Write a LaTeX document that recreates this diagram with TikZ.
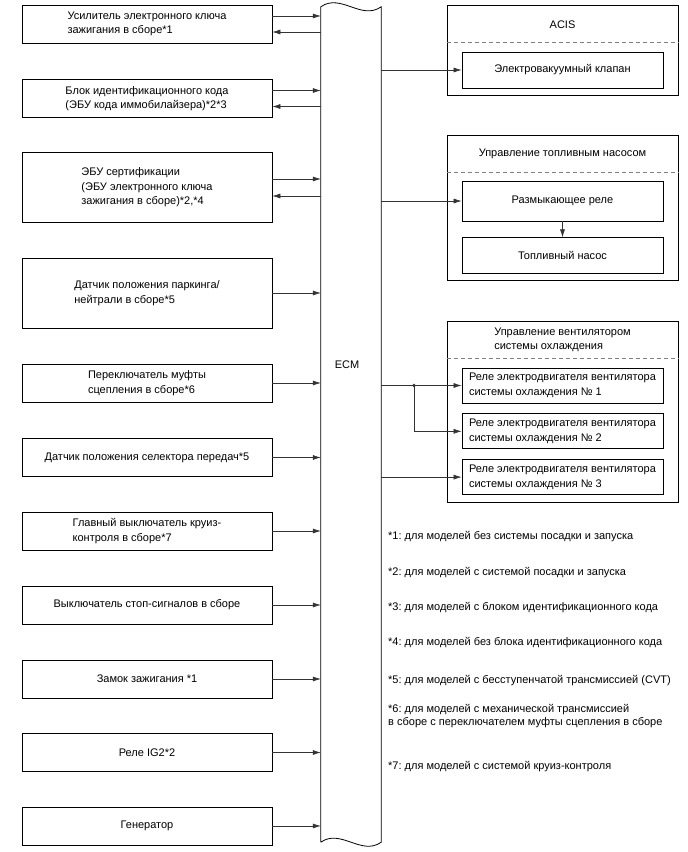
\documentclass[tikz,border=0pt]{standalone}
\usepackage{fontspec}
\setmainfont{Liberation Sans}
\usetikzlibrary{positioning, calc, arrows.meta}
\frenchspacing

\begin{document}
\begin{tikzpicture}[
    x=1pt, y=-1pt,
    >={Latex[length=8pt,width=5pt]},
    font=\fontsize{11}{14.5}\selectfont,
    node distance=10pt,
    % Styles
    unit/.style={draw, line width=0.8pt, minimum width=250pt,
        minimum height=38pt, align=left, inner sep=0pt},
    tallunit/.style={unit, minimum height=70pt},
    group/.style={draw, line width=0.8pt, minimum width=231pt},
    part/.style={draw, line width=0.8pt, minimum width=201pt,
        minimum height=36pt, align=left, inner sep=0pt},
    ecmbody/.style={minimum width=60pt, minimum height=835pt, inner sep=0pt},
    ecmline/.style={line width=0.8pt},
    sep/.style={dashed, dash pattern=on 4pt off 3pt, gray, line width=0.7pt},
    arr/.style={->, line width=0.6pt, black!80},
    note/.style={anchor=west, align=left, inner sep=0pt},
]
\useasboundingbox (0,0) rectangle (688,852);

% ===== ECM =====
\node[ecmbody] (ecm) at (351,424.5) {};
\draw[ecmline] (ecm.south west) -- (ecm.north west)
    .. controls +(20,-14) and +(-20,14) .. (ecm.north east)
    -- (ecm.south east)
    .. controls +(-20,14) and +(20,-14) .. (ecm.south west);
\node (ecmlbl) at (347,365) {ECM};

% ===== Left column: inputs =====
\node[unit] (ign) at (147,24)
    {Усилитель электронного ключа\\зажигания в сборе*1};
\draw[arr] ([yshift=8pt]ign.east) -- ([yshift=8pt]ign.east -| ecm.west);
\draw[arr] ([yshift=-8pt]ign.east -| ecm.west) -- ([yshift=-8pt]ign.east);

\node[unit] (immo) at (147,98.5)
    {Блок идентификационного кода\\(ЭБУ кода иммобилайзера)*2*3};
\draw[arr] ([yshift=8pt]immo.east) -- ([yshift=8pt]immo.east -| ecm.west);
\draw[arr] ([yshift=-8pt]immo.east -| ecm.west) -- ([yshift=-8pt]immo.east);

\node[tallunit] (cert) at (147,187.5)
    {ЭБУ сертификации\\(ЭБУ электронного ключа\\зажигания в сборе)*2,*4};
\draw[arr] ([yshift=8.5pt]cert.east) -- ([yshift=8.5pt]cert.east -| ecm.west);
\draw[arr] ([yshift=-8.5pt]cert.east -| ecm.west) -- ([yshift=-8.5pt]cert.east);

\node[tallunit] (pnp) at (147,293)
    {Датчик положения паркинга/\\нейтрали в сборе*5};
\draw[arr] (pnp.east) -- (pnp.east -| ecm.west);

\node[unit] (clutch) at (147,383)
    {Переключатель муфты\\сцепления в сборе*6};
\draw[arr] (clutch.east) -- (clutch.east -| ecm.west);

\node[unit] (shift) at (147,457.5)
    {Датчик положения селектора передач*5};
\draw[arr] (shift.east) -- (shift.east -| ecm.west);

\node[unit] (cruise) at (147,531)
    {Главный выключатель круиз-\\контроля в сборе*7};
\draw[arr] (cruise.east) -- (cruise.east -| ecm.west);

\node[unit] (stop) at (147,605)
    {Выключатель стоп-сигналов в сборе};
\draw[arr] (stop.east) -- (stop.east -| ecm.west);

\node[unit] (igsw) at (147,679)
    {Замок зажигания *1};
\draw[arr] (igsw.east) -- (igsw.east -| ecm.west);

\node[unit] (ig2) at (147,752.5)
    {Реле IG2*2};
\draw[arr] (ig2.east) -- (ig2.east -| ecm.west);

\node[unit] (gen) at (147,826)
    {Генератор};
\draw[arr] (gen.east) -- (gen.east -| ecm.west);

% ===== Right column: outputs =====
% ACIS
\node[group, minimum height=90pt] (acis) at (562.5,50) {};
\node (acistitle) at ($(acis.north)+(0,20)$) {ACIS};
\draw[sep] ($(acis.north west)+(0,38)$) -- ($(acis.north east)+(0,38)$);
\node[part] (vsv) at (562.5,70) {Электровакуумный клапан};
\draw[arr] (vsv.west -| ecm.east) -- (vsv.west);

% Fuel pump control
\node[group, minimum height=145pt] (fuel) at (562.5,207.5) {};
\node (fueltitle) at ($(fuel.north)+(0,19)$) {Управление топливным насосом};
\draw[sep] ($(fuel.north west)+(0,38)$) -- ($(fuel.north east)+(0,38)$);
\node[part, minimum height=40pt] (cor) at (562.5,201) {Размыкающее реле};
\node[part, below=16pt of cor] (pump) {Топливный насос};
\draw[arr] (cor.west -| ecm.east) -- (cor.west);
\draw[arr] (cor) -- (pump);

% Cooling fan control
\node[group, minimum height=181pt] (fan) at (562.5,411.5) {};
\node[align=left] (fantitle) at ($(fan.north)+(0,19)$)
    {Управление вентилятором\\системы охлаждения};
\draw[sep] ($(fan.north west)+(0,38)$) -- ($(fan.north east)+(0,38)$);
\node[part, minimum height=35pt] (fan1) at (562.5,385.5)
    {Реле электродвигателя вентилятора\\системы охлаждения № 1};
\node[part, minimum height=35pt, below=of fan1] (fan2)
    {Реле электродвигателя вентилятора\\системы охлаждения № 2};
\node[part, minimum height=35pt, below=of fan2] (fan3)
    {Реле электродвигателя вентилятора\\системы охлаждения № 3};
\coordinate (splitx) at (414,0);
\coordinate (split) at (fan1.west -| splitx);
\draw[arr] (fan1.west -| ecm.east) -- (fan1.west);
\draw[arr] (split) |- (fan2.west);
\fill[black!80] (split) circle (1.8pt);
\draw[arr] (fan3.west -| ecm.east) -- (fan3.west);

% ===== Notes =====
\node[note] (n1) at (388,537) {*1: для моделей без системы посадки и запуска};
\node[note] (n2) at (388,573) {*2: для моделей с системой посадки и запуска};
\node[note] (n3) at (388,608) {*3: для моделей с блоком идентификационного кода};
\node[note] (n4) at (388,643) {*4: для моделей без блока идентификационного кода};
\node[note] (n5) at (388,681) {*5: для моделей с бесступенчатой трансмиссией (CVT)};
\node[note, font=\fontsize{11}{12.5}\selectfont] (n6) at (388,716)
    {*6: для моделей с механической трансмиссией\\в сборе с переключателем муфты сцепления в сборе};
\node[note] (n7) at (388,767) {*7: для моделей с системой круиз-контроля};

\end{tikzpicture}
\end{document}
